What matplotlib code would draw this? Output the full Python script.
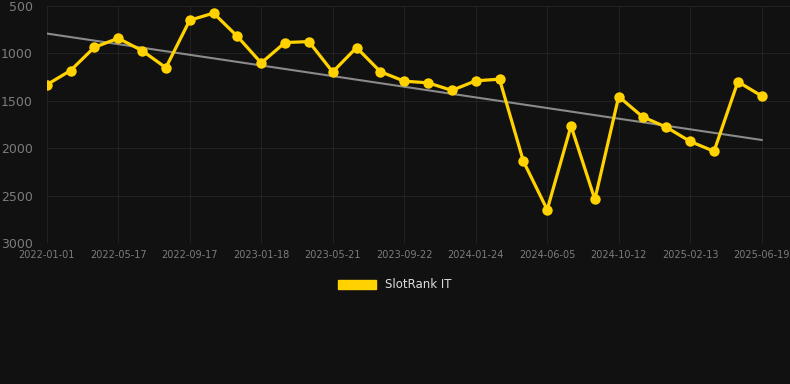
import numpy as np
import matplotlib.pyplot as plt

# rank values (lower is better, axis is reversed)
dates = ["2022-01-01", "2022-02-15", "2022-04-01", "2022-05-17", "2022-06-30",
         "2022-08-04", "2022-09-17", "2022-10-28", "2022-12-08", "2023-01-18",
         "2023-02-28", "2023-04-10", "2023-05-21", "2023-07-01", "2023-08-12",
         "2023-09-22", "2023-11-02", "2023-12-13", "2024-01-24", "2024-03-06",
         "2024-04-20", "2024-06-05", "2024-07-18", "2024-08-30", "2024-10-12",
         "2024-11-22", "2025-01-02", "2025-02-13", "2025-03-27", "2025-05-08",
         "2025-06-19"]
rank = [1330, 1180, 935, 840, 970, 1150, 650, 575, 820, 1100,
        885, 875, 1195, 938, 1192, 1292, 1309, 1389, 1288, 1271,
        2135, 2646, 1764, 2538, 1454, 1667, 1777, 1927, 2031, 1298,
        1448]
series_name = "SlotRank IT"

bg = "#111111"
gold = "#FFD200"
tick_col = "#7c7c7c"

fig = plt.figure(figsize=(7.9, 3.84), dpi=100, facecolor=bg)
ax = fig.add_axes([46.7 / 790, 1 - 243.3 / 384, 1 - 46.7 / 790, (243.3 - 6) / 384])
ax.set_facecolor(bg)

x = np.arange(len(rank))

# trend line (linear fit)
k, b = np.polyfit(x, rank, 1)
ax.plot([x[0], x[-1]], [k * x[0] + b, k * x[-1] + b], color="#8a8a8a", lw=1.5, zorder=2)

ax.plot(x, rank, color=gold, lw=2.3, marker="o", ms=7.5, markeredgewidth=0,
        label=series_name, zorder=3)

ax.set_ylim(3000, 500)
ax.set_yticks([500, 1000, 1500, 2000, 2500, 3000])
ax.set_xlim(0, 30 + (790 - 761.7) / 23.83)
ax.set_xticks(x[::3])
ax.set_xticklabels(dates[::3])

ax.grid(True, color="#222222", lw=0.8)
for s in ax.spines.values():
    s.set_visible(False)
ax.tick_params(axis="y", length=0, pad=10, labelsize=9, labelcolor=tick_col)
ax.tick_params(axis="x", length=0, pad=5, labelsize=7, labelcolor=tick_col)

leg = fig.legend(handles=[plt.Rectangle((0, 0), 1, 1, color=gold)], labels=[series_name],
                 loc="center", bbox_to_anchor=(0.5, 1 - 285 / 384), frameon=False,
                 handlelength=3.2, handleheight=0.9, fontsize=8.5, labelcolor="#dddddd")

fig.savefig("out.png", dpi=100, facecolor=bg)
